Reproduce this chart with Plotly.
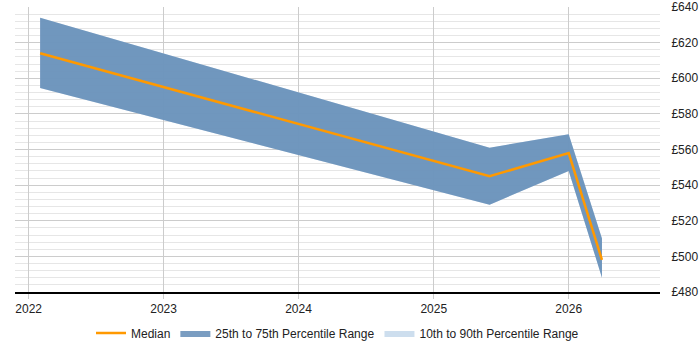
import plotly.graph_objects as go

dates = ["2022-02-01", "2025-06-01", "2026-01-01", "2026-04-01"]
median = [614, 545, 558, 498]
p25 = [594.5, 529, 548, 488]
p75 = [634, 561, 568.5, 510]
p10 = [594.5, 529, 548, 488]
p90 = [634, 561, 568.5, 510]
tick_years = ["2022-01-01", "2023-01-01", "2024-01-01", "2025-01-01", "2026-01-01"]
tick_labels = ["2022", "2023", "2024", "2025", "2026"]
y_ticks = [480, 500, 520, 540, 560, 580, 600, 620, 640]
y_labels = ["£" + str(v) for v in y_ticks]

fig = go.Figure()
# 10-90 band
fig.add_trace(go.Scatter(x=dates, y=p10, mode="lines", line=dict(width=0),
                         showlegend=False, hoverinfo="skip", legendgroup="b2"))
fig.add_trace(go.Scatter(x=dates, y=p90, mode="lines", line=dict(width=0),
                         fill="tonexty", fillcolor="rgba(200,218,236,0.9)",
                         name="10th to 90th Percentile Range", legendgroup="b2", legendrank=3))
# 25-75 band
fig.add_trace(go.Scatter(x=dates, y=p25, mode="lines", line=dict(width=0),
                         showlegend=False, hoverinfo="skip", legendgroup="b1"))
fig.add_trace(go.Scatter(x=dates, y=p75, mode="lines", line=dict(width=0),
                         fill="tonexty", fillcolor="rgba(89,132,178,0.8)",
                         name="25th to 75th Percentile Range", legendgroup="b1", legendrank=2))
fig.add_trace(go.Scatter(x=dates, y=median, mode="lines",
                         line=dict(color="#ff9900", width=2.5), name="Median", legendrank=1))

fig.update_layout(
    width=700, height=350,
    margin=dict(l=15, r=40, t=7, b=58, autoexpand=False),
    paper_bgcolor="white", plot_bgcolor="white",
    font=dict(family="Liberation Sans, Arial, sans-serif", size=12, color="#222"),
    showlegend=True,
    legend=dict(orientation="h", x=0.5, xanchor="center", y=-0.144, yanchor="middle",
                font=dict(size=12, color="#222"), itemwidth=30, tracegroupgap=0),
    xaxis=dict(type="date", range=["2021-11-25", "2026-09-05"],
               tickvals=tick_years, ticktext=tick_labels,
               showgrid=True, gridcolor="#cccccc", gridwidth=1,
               showline=True, linecolor="#000000", linewidth=1.5,
               ticks="outside", ticklen=5, tickcolor="#cccccc",
               zeroline=False, fixedrange=True),
    yaxis=dict(range=[480, 640], side="right",
               tickvals=y_ticks, ticktext=y_labels,
               showgrid=True, gridcolor="#cccccc", gridwidth=1,
               minor=dict(dtick=4, showgrid=True, gridcolor="#e6e6e6", gridwidth=1),
               ticks="outside", ticklen=8, tickcolor="rgba(0,0,0,0)",
               zeroline=False, showline=False, fixedrange=True),
)

fig.write_html("out.html")
